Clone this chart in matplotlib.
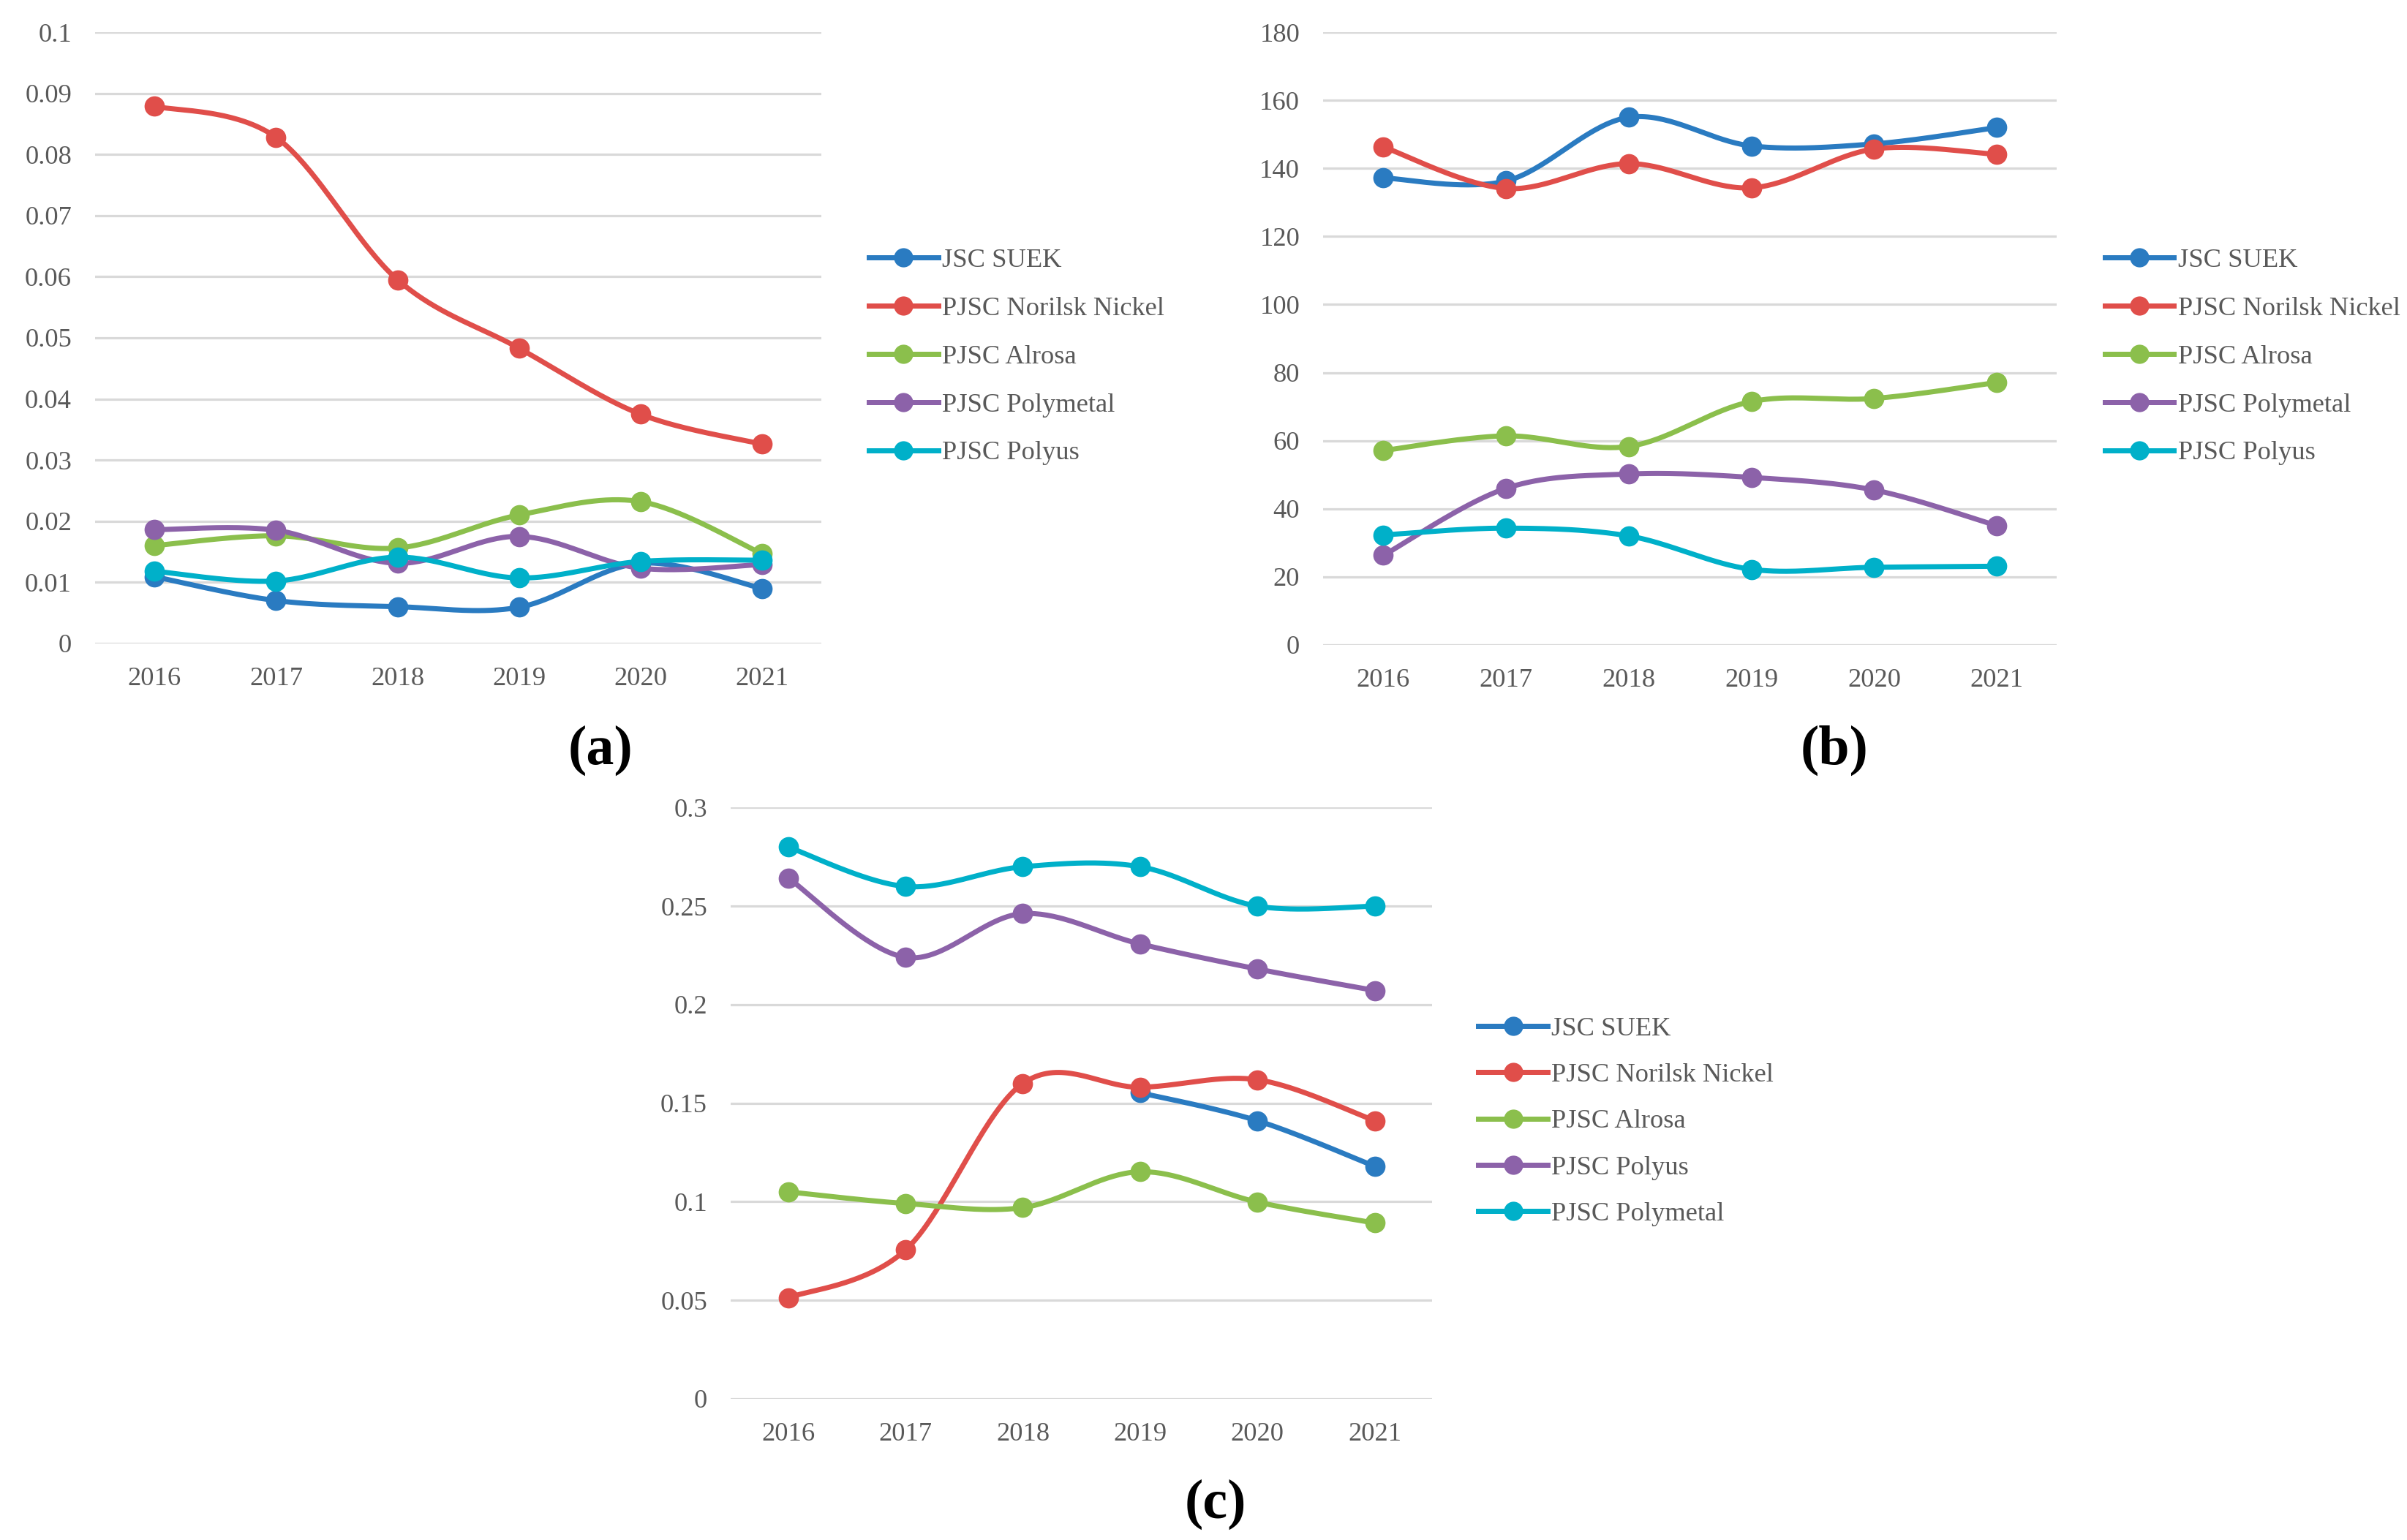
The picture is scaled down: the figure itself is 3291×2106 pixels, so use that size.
import numpy as np
import matplotlib
matplotlib.use("Agg")
import matplotlib.pyplot as plt

plt.rcParams['font.family'] = ['Liberation Serif', 'DejaVu Serif']

years = [2016, 2017, 2018, 2019, 2020, 2021]

# panel (a)
a_suek = [0.0109, 0.0070, 0.0060, 0.0059, 0.0131, 0.0090]
a_norilsk = [0.0879, 0.0828, 0.0595, 0.0483, 0.0375, 0.0326]
a_alrosa = [0.0160, 0.0176, 0.0156, 0.0210, 0.0232, 0.0147]
a_polymetal = [0.0186, 0.0185, 0.0131, 0.0175, 0.0123, 0.0129]
a_polyus = [0.0118, 0.0102, 0.0141, 0.0107, 0.0134, 0.0136]

# panel (b)
b_suek = [137.2, 136.3, 155.0, 146.6, 147.2, 152.0]
b_norilsk = [146.3, 134.1, 141.4, 134.3, 145.7, 144.1]
b_alrosa = [57.1, 61.4, 58.3, 71.5, 72.4, 77.1]
b_polymetal = [26.3, 46.0, 50.2, 49.2, 45.5, 35.0]
b_polyus = [32.3, 34.3, 32.0, 22.2, 22.8, 23.1]

# panel (c)
c_suek = [np.nan, np.nan, np.nan, 0.1553, 0.1411, 0.1180]
c_norilsk = [0.0512, 0.0755, 0.1600, 0.1581, 0.1619, 0.1411]
c_alrosa = [0.1050, 0.0991, 0.0970, 0.1152, 0.0998, 0.0892]
c_polyus = [0.2643, 0.2240, 0.2462, 0.2308, 0.2181, 0.2072]
c_polymetal = [0.2800, 0.2600, 0.2700, 0.2700, 0.2500, 0.2500]

names_ab = ["JSC SUEK", "PJSC Norilsk Nickel", "PJSC Alrosa", "PJSC Polymetal", "PJSC Polyus"]
names_c = ["JSC SUEK", "PJSC Norilsk Nickel", "PJSC Alrosa", "PJSC Polyus", "PJSC Polymetal"]
colors = ["#2A7BC1", "#E04E4A", "#8BBF4C", "#8C62A9", "#00B0C9"]


def smooth(x, y, n=40):
    # Excel-like smoothed line (Catmull-Rom through the points)
    x = np.asarray(x, float)
    y = np.asarray(y, float)
    ok = ~np.isnan(y)
    p = np.column_stack([x[ok], y[ok]])
    if len(p) < 2:
        return p[:, 0], p[:, 1]
    ext = np.vstack([p[0], p, p[-1]])
    t = np.linspace(0, 1, n)[:, None]
    out = []
    for i in range(1, len(ext) - 2):
        p0, p1, p2, p3 = ext[i - 1], ext[i], ext[i + 1], ext[i + 2]
        c1 = p1 + (p2 - p0) / 6
        c2 = p2 - (p3 - p1) / 6
        seg = ((1 - t) ** 3) * p1 + 3 * ((1 - t) ** 2) * t * c1 + 3 * (1 - t) * t ** 2 * c2 + t ** 3 * p2
        out.append(seg if i == 1 else seg[1:])
    out = np.vstack(out)
    return out[:, 0], out[:, 1]


W, H = 1568.0, 1003.0
fig = plt.figure(figsize=(3291 / 210, 2106 / 210), dpi=210)


def make_axes(x0, x1, ytop, ybot):
    return fig.add_axes([x0 / W, 1 - ybot / H, (x1 - x0) / W, (ybot - ytop) / H])


def draw(ax, series, names, ymax, ystep, leg_x, leg_y, spacing):
    for vals, name, col in zip(series, names, colors):
        sx, sy = smooth(years, vals)
        ax.plot(sx, sy, color=col, lw=2.4, solid_capstyle='round', zorder=3)
        ax.plot(years, vals, 'o', color=col, ms=8.5, zorder=4)
        ax.plot([], [], '-o', color=col, lw=2.4, ms=8, label=name)
    ax.set_xlim(2015.51, 2021.49)
    ax.set_ylim(0, ymax)
    ticks = np.round(np.arange(0, ymax + ystep / 2, ystep), 6)
    ax.set_yticks(ticks)
    ax.set_yticklabels([f"{v:g}" for v in ticks])
    ax.set_xticks(years)
    ax.grid(axis='y', color='#D9D9D9', lw=1.1)
    ax.set_axisbelow(True)
    for s in ax.spines.values():
        s.set_visible(False)
    ax.tick_params(length=0, labelsize=12.5, colors='#595959', pad=11)
    leg = ax.legend(loc='upper left', bbox_to_anchor=(leg_x / W, 1 - leg_y / H),
                    bbox_transform=fig.transFigure, frameon=False, fontsize=12.5,
                    handlelength=2.6, handletextpad=0.15, labelspacing=spacing,
                    borderpad=0, borderaxespad=0)
    for t in leg.get_texts():
        t.set_color('#595959')


ax_a = make_axes(62, 535, 21, 419)
draw(ax_a, [a_suek, a_norilsk, a_alrosa, a_polymetal, a_polyus], names_ab, 0.1, 0.01, 566, 161.5, 0.89)

ax_b = make_axes(862, 1340, 21, 420)
draw(ax_b, [b_suek, b_norilsk, b_alrosa, b_polymetal, b_polyus], names_ab, 180, 20, 1371, 161.5, 0.89)

ax_c = make_axes(476, 933, 526, 911)
draw(ax_c, [c_suek, c_norilsk, c_alrosa, c_polyus, c_polymetal], names_c, 0.3, 0.05, 963, 662, 0.82)

for lab, x, y in [("(a)", 391, 489), ("(b)", 1195, 489), ("(c)", 792, 980)]:
    fig.text(x / W, 1 - y / H, lab, ha='center', va='center', fontsize=26,
             fontweight='bold', color='black')

fig.savefig("out.png", dpi=210)
